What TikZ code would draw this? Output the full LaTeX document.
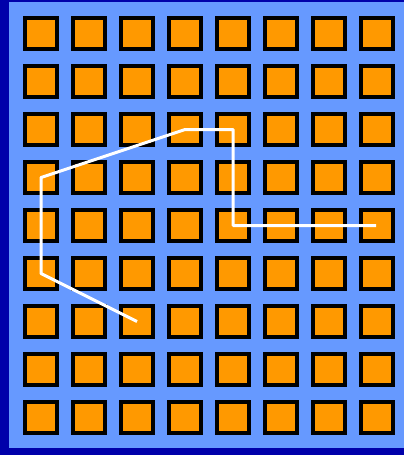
\documentclass[tikz,border=0pt]{standalone}
\definecolor{bgdark}{HTML}{0000AA}
\definecolor{bglight}{HTML}{6699FF}
\definecolor{sqorange}{HTML}{FF9900}
\begin{document}
\begin{tikzpicture}[x=1pt,y=-1pt,
  cell/.style={draw=black,fill=sqorange,line width=4pt,minimum size=31.5pt,inner sep=0pt,outer sep=0pt},
  route/.style={white,line width=3pt,line join=round}]
\useasboundingbox (0,0) rectangle (404,455);
\fill[bgdark] (0,0) rectangle (404,455);
\fill[bglight] (9,2) rectangle (404,448);
\foreach \i in {0,...,7}{
  \foreach \j in {0,...,8}{
    \node[cell] (s-\i-\j) at ({41+48*\i},{33.5+48*\j}) {};
  }
}
\draw[route] (s-2-6.center) -- (s-0-5.center) -- (s-0-3.center) -- (s-3-2.center) -- (s-4-2.center) -- (s-4-4.center) -- ([xshift=-1pt]s-7-4.center);
\end{tikzpicture}
\end{document}
